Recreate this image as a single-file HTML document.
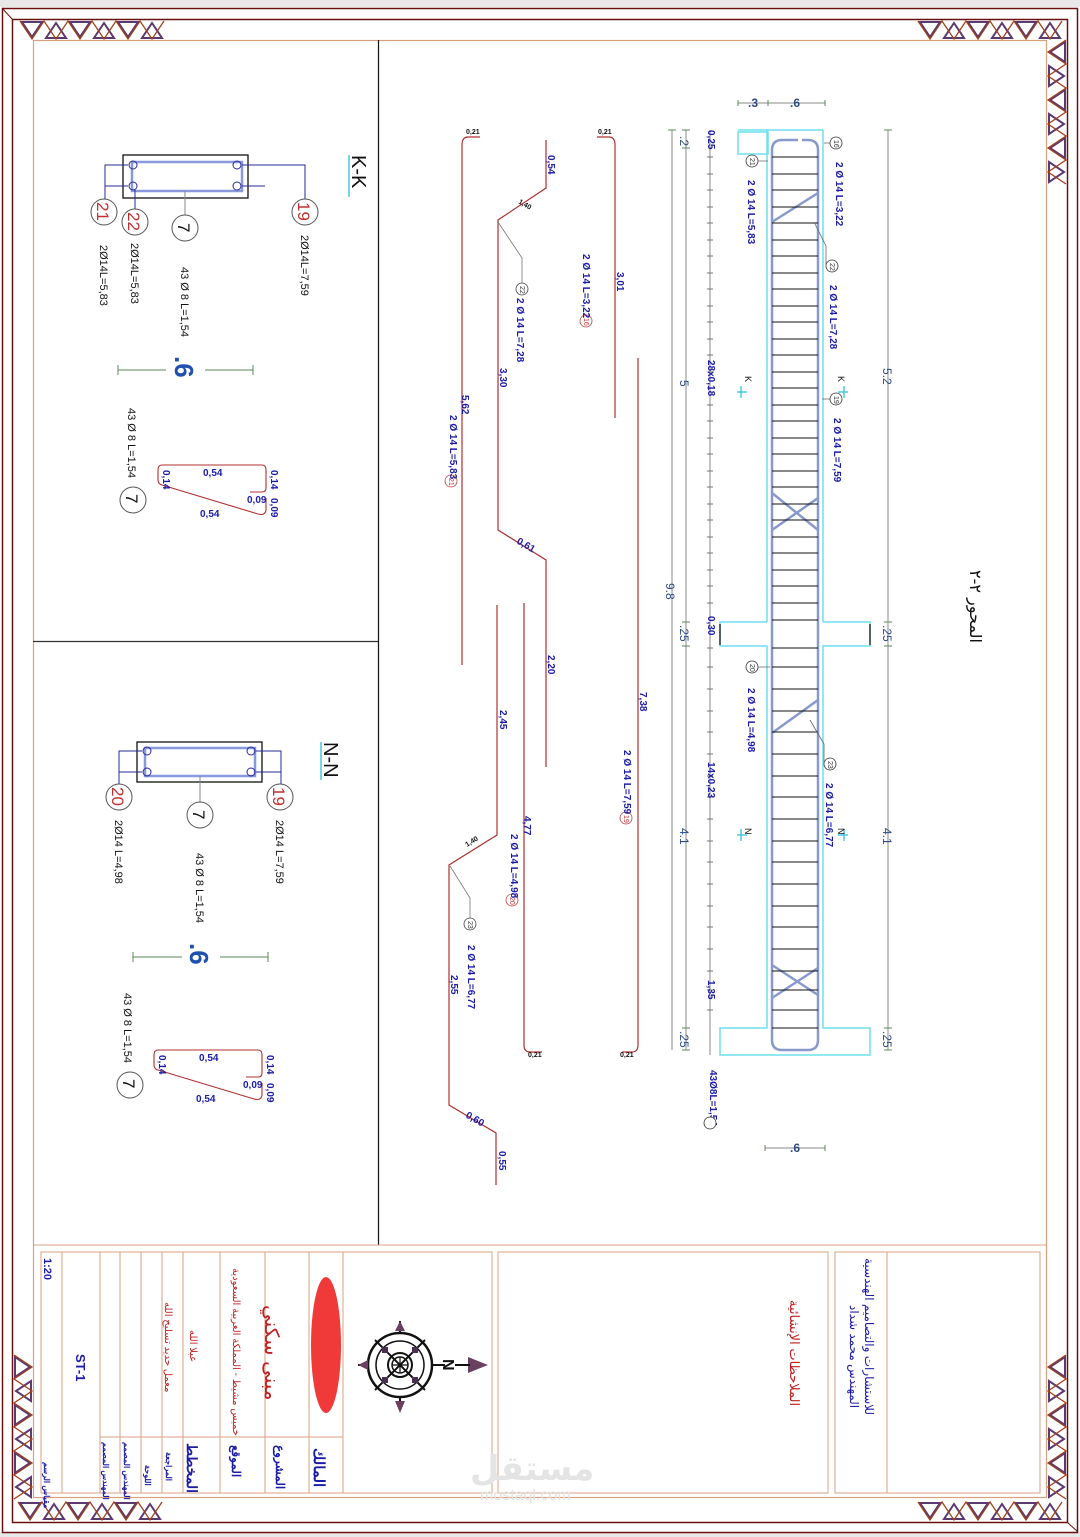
<!DOCTYPE html>
<html><head><meta charset="utf-8"><style>
html,body{margin:0;padding:0;background:#fff}
svg{display:block}
text{font-family:"Liberation Sans","Noto Sans CJK SC",sans-serif}
.b{fill:#1c1ca8;font-weight:bold;font-size:10px}
.k{fill:#111;font-size:11px}
.d{fill:#2a4a8a;font-size:12px}
.ar{font-family:"DejaVu Sans","Liberation Sans",sans-serif}
</style></head><body>
<svg width="1080" height="1537" viewBox="0 0 1080 1537" xmlns="http://www.w3.org/2000/svg">
<defs>
<g id="strip">
 <polygon points="2,1 22,1 12,16" fill="none" stroke="#5a3a70" stroke-width="2"/>
 <polygon points="26,17 46,17 36,2" fill="none" stroke="#5a3a70" stroke-width="2"/>
 <polygon points="50,1 70,1 60,16" fill="none" stroke="#5a3a70" stroke-width="2"/>
 <polygon points="74,17 94,17 84,2" fill="none" stroke="#5a3a70" stroke-width="2"/>
 <polygon points="98,1 118,1 108,16" fill="none" stroke="#5a3a70" stroke-width="2"/>
 <polygon points="122,17 142,17 132,2" fill="none" stroke="#5a3a70" stroke-width="2"/>
 <polyline points="0,0 12,18 24,0 36,18 48,0 60,18 72,0 84,18 96,0 108,18 120,0 132,18 144,0" fill="none" stroke="#a0401a" stroke-width="1.3"/>
</g>
</defs>
<rect x="0" y="0" width="1080" height="7" fill="#e8e8e8"/>
<rect x="0" y="1532" width="1080" height="5" fill="#e8e8e8"/>
<rect x="2.5" y="8.5" width="1075" height="1524" fill="none" stroke="#6a1010" stroke-width="1.5"/>
<rect x="12.5" y="19.5" width="1055" height="1503" fill="none" stroke="#6a1010" stroke-width="1.5"/>
<rect x="33.5" y="40.5" width="1013" height="1457" fill="none" stroke="#d9a080" stroke-width="1.2"/>
<line x1="2" y1="8" x2="13" y2="20" stroke="#6a1010"/>
<line x1="1078" y1="1532" x2="1067" y2="1522" stroke="#6a1010"/>
<use href="#strip" x="20" y="21"/>
<use href="#strip" x="918" y="21"/>
<use href="#strip" x="18" y="1502"/>
<use href="#strip" x="918" y="1502"/>
<use href="#strip" transform="translate(1066,40) rotate(90)"/>
<use href="#strip" transform="translate(1066,1355) rotate(90)"/>
<use href="#strip" transform="translate(14,1355) rotate(90) scale(1,-1)"/>
<line x1="378.5" y1="40" x2="378.5" y2="1245" stroke="#111" stroke-width="1.2"/>
<line x1="33" y1="641.5" x2="378" y2="641.5" stroke="#333" stroke-width="1.2"/>

<g fill="none" stroke="#6fe0ee" stroke-width="1.5">
 <rect x="738" y="132" width="30" height="22"/>
 <line x1="767" y1="130" x2="767" y2="622"/><line x1="823" y1="130" x2="823" y2="622"/>
 <line x1="738" y1="130" x2="823" y2="130"/>
 <polyline points="767,622 720,622 720,646 767,646 767,1028 720,1028 720,1055 870,1055 870,1028 823,1028 823,646 870,646 870,622 823,622"/>
</g>
<line x1="870" y1="624" x2="870" y2="645" stroke="#333" stroke-width="1.5"/>
<line x1="720" y1="624" x2="720" y2="645" stroke="#333" stroke-width="1.5"/>
<g stroke="#8899cc" stroke-width="2.5" fill="none">
 <path d="M772,1040 L772,150 Q772,140 782,140 L798,140"/>
 <path d="M818,1040 L818,150 Q818,140 808,140 L802,140"/>
 <path d="M772,1040 Q772,1050 782,1050 L808,1050 Q818,1050 818,1040"/>
 <line x1="772" y1="222" x2="818" y2="193"/>
 <line x1="772" y1="530" x2="818" y2="498"/>
 <line x1="772" y1="493" x2="818" y2="530"/>
 <line x1="772" y1="733" x2="818" y2="700"/>
 <line x1="772" y1="965" x2="818" y2="995"/>
 <line x1="772" y1="998" x2="818" y2="968"/>
</g>
<g stroke="#111" stroke-width="1">
<path d="M772,157H818M772,174H818M772,190H818M772,207H818M772,223H818M772,240H818M772,256H818M772,273H818M772,289H818M772,306H818M772,322H818M772,339H818M772,355H818M772,372H818M772,388H818M772,405H818M772,421H818M772,438H818M772,454H818M772,471H818M772,487H818M772,504H818M772,520H818M772,537H818M772,553H818M772,570H818M772,586H818M772,603H818M772,620H818M772,648H818M772,667H818M772,689H818M772,711H818M772,732H818M772,754H818M772,776H818M772,797H818M772,819H818M772,841H818M772,862H818M772,884H818M772,906H818M772,927H818M772,949H818M772,971H818M772,990H818M772,1010H818M772,1028H818"/>
</g>
<g stroke="#888" stroke-width="1">
 <line x1="672" y1="130" x2="672" y2="1050"/>
 <line x1="686" y1="130" x2="686" y2="1050"/>
 <line x1="710" y1="130" x2="710" y2="1055"/>
 <line x1="888" y1="130" x2="888" y2="1050"/>
 <line x1="738" y1="103" x2="825" y2="103"/>
 <line x1="765" y1="1148" x2="825" y2="1148"/>
</g>
<g stroke="#5a8a5a" stroke-width="1">
 <path d="M668,130h8M682,130h8M682,148h8M682,622h8M682,646h8M682,1028h8M682,1050h8M884,130h8M884,622h8M884,646h8M884,1028h8M884,1050h8M738,100v6M768,100v6M825,100v6M765,1145v6M825,1145v6"/>
</g>
<g stroke="#777" stroke-width="1">
<path d="M707,157h6M707,174h6M707,190h6M707,207h6M707,223h6M707,240h6M707,256h6M707,273h6M707,289h6M707,306h6M707,322h6M707,339h6M707,355h6M707,372h6M707,388h6M707,405h6M707,421h6M707,438h6M707,454h6M707,471h6M707,487h6M707,504h6M707,520h6M707,537h6M707,553h6M707,570h6M707,586h6M707,603h6M707,648h6M707,667h6M707,689h6M707,711h6M707,732h6M707,754h6M707,776h6M707,797h6M707,819h6M707,841h6M707,862h6M707,884h6M707,906h6M707,927h6M707,949h6M707,971h6M707,990h6M707,1010h6"/>
</g>
<g class="d" font-size="13">
 <text x="748" y="107" font-weight="bold">.3</text><text x="790" y="107" font-weight="bold">.6</text>
 <text x="790" y="1152" font-weight="bold">.6</text>
 <text transform="translate(680,136) rotate(90)">.2</text>
 <text transform="translate(680,380) rotate(90)">5</text>
 <text transform="translate(666,583) rotate(90)">9.8</text>
 <text transform="translate(680,625) rotate(90)">.25</text>
 <text transform="translate(680,828) rotate(90)">4.1</text>
 <text transform="translate(680,1031) rotate(90)">.25</text>
 <text transform="translate(883,368) rotate(90)">5.2</text>
 <text transform="translate(883,625) rotate(90)">.25</text>
 <text transform="translate(883,828) rotate(90)">4.1</text>
 <text transform="translate(883,1031) rotate(90)">.25</text>
</g>
<g class="b">
 <text transform="translate(708,130) rotate(90)">0,25</text>
 <text transform="translate(708,360) rotate(90)">28x0,18</text>
 <text transform="translate(708,616) rotate(90)">0,30</text>
 <text transform="translate(708,762) rotate(90)">14x0,23</text>
 <text transform="translate(708,980) rotate(90)">1,35</text>
 <text transform="translate(710,1070) rotate(90)">43Ø8L=1,54</text>
 <text transform="translate(836,162) rotate(90)">2 Ø 14 L=3,22</text>
 <text transform="translate(748,180) rotate(90)">2 Ø 14 L=5,83</text>
 <text transform="translate(830,285) rotate(90)">2 Ø 14 L=7,28</text>
 <text transform="translate(834,418) rotate(90)">2 Ø 14 L=7,59</text>
 <text transform="translate(748,688) rotate(90)">2 Ø 14 L=4,98</text>
 <text transform="translate(826,783) rotate(90)">2 Ø 14 L=6,77</text>
</g>
<g fill="#fff" stroke="#333" stroke-width="0.8">
 <circle cx="836" cy="143" r="6"/><circle cx="752" cy="161" r="6"/><circle cx="832" cy="266" r="6"/>
 <circle cx="836" cy="399" r="6"/><circle cx="752" cy="667" r="6"/><circle cx="830" cy="764" r="6"/>
 <circle cx="710" cy="1123" r="6"/>
</g>
<g fill="none" stroke="#666" stroke-width="0.8">
 <path d="M824,143h6M758,161h10M826,266v-20l-12,-24M822,399h8M758,667h12M824,764v-20l-14,-24"/>
</g>
<g font-size="7" fill="#333">
 <text transform="translate(834,140) rotate(90)">16</text><text transform="translate(750,158) rotate(90)">21</text>
 <text transform="translate(830,263) rotate(90)">22</text><text transform="translate(834,396) rotate(90)">19</text>
 <text transform="translate(750,664) rotate(90)">20</text><text transform="translate(828,761) rotate(90)">23</text>
</g>
<g stroke="#4ac8e0" stroke-width="1.5" fill="none">
 <path d="M737,392h10M741,386v12M838,392h10M844,386v12M737,835h10M741,829v12M838,835h10M844,829v12"/>
</g>
<g font-size="9" fill="#111">
 <text transform="translate(745,376) rotate(90)">K</text><text transform="translate(838,376) rotate(90)">K</text>
 <text transform="translate(745,828) rotate(90)">N</text><text transform="translate(838,828) rotate(90)">N</text>
</g>
<text class="ar" transform="translate(970,570) rotate(90)" font-size="16" fill="#111">المحور ٢-٢</text>

<g fill="none" stroke="#b03030" stroke-width="1.2">
 <path d="M480,137 H468 Q462,137 462,145 V665"/>
 <path d="M546,140 V188 L498,220 V530 L546,560 V767"/>
 <path d="M597,137 H609 Q615,137 615,145 V418"/>
 <path d="M638,358 V1045 Q638,1052 632,1052 H622"/>
 <path d="M524,603 V1045 Q524,1052 530,1052 H542"/>
 <path d="M497,605 V835 L449,865 V1105 L496,1133 V1185"/>
</g>
<g fill="none" stroke="#777" stroke-width="0.8"><path d="M498,222 L522,258 V285"/><path d="M450,866 L470,898 V920"/></g>
<g fill="#fff" stroke="#444" stroke-width="0.8"><circle cx="522" cy="289" r="6"/><circle cx="470" cy="924" r="6"/></g>
<g fill="#fff" stroke="#c04040" stroke-width="0.8"><circle cx="586" cy="321" r="6"/><circle cx="451" cy="481" r="6"/><circle cx="626" cy="818" r="6"/><circle cx="512" cy="900" r="6"/></g>
<g font-size="7" fill="#333"><text transform="translate(520,286) rotate(90)">22</text><text transform="translate(468,921) rotate(90)">23</text></g>
<g font-size="7" fill="#c03030"><text transform="translate(584,318) rotate(90)">16</text><text transform="translate(449,478) rotate(90)">21</text><text transform="translate(624,815) rotate(90)">19</text><text transform="translate(510,897) rotate(90)">20</text></g>
<g class="b">
 <text x="466" y="134" font-size="7" fill="#111">0,21</text>
 <text x="598" y="134" font-size="7" fill="#111">0,21</text>
 <text x="528" y="1057" font-size="7" fill="#111">0,21</text>
 <text x="620" y="1057" font-size="7" fill="#111">0,21</text>
 <text transform="translate(548,155) rotate(90)">0,54</text>
 <text transform="translate(518,203) rotate(30)" font-size="7" fill="#111">1,40</text>
 <text transform="translate(500,368) rotate(90)">3,30</text>
 <text transform="translate(462,395) rotate(90)">5,62</text>
 <text transform="translate(516,543) rotate(30)">0,61</text>
 <text transform="translate(548,655) rotate(90)">2,20</text>
 <text transform="translate(617,272) rotate(90)">3,01</text>
 <text transform="translate(640,692) rotate(90)">7,38</text>
 <text transform="translate(500,710) rotate(90)">2,45</text>
 <text transform="translate(524,816) rotate(90)">4,77</text>
 <text transform="translate(467,847) rotate(-32)" font-size="7" fill="#111">1,40</text>
 <text transform="translate(451,975) rotate(90)">2,55</text>
 <text transform="translate(465,1117) rotate(30)">0,60</text>
 <text transform="translate(499,1151) rotate(90)">0,55</text>
 <text transform="translate(583,254) rotate(90)">2 Ø 14 L=3,22</text>
 <text transform="translate(517,298) rotate(90)">2 Ø 14 L=7,28</text>
 <text transform="translate(450,415) rotate(90)">2 Ø 14 L=5,83</text>
 <text transform="translate(624,750) rotate(90)">2 Ø 14 L=7,59</text>
 <text transform="translate(511,834) rotate(90)">2 Ø 14 L=4,98</text>
 <text transform="translate(468,945) rotate(90)">2 Ø 14 L=6,77</text>
</g>

<rect x="123" y="155" width="125" height="43" fill="none" stroke="#111" stroke-width="1.3"/>
<rect x="132" y="162" width="110" height="29" fill="none" stroke="#8899dd" stroke-width="2.5"/>
<g fill="none" stroke="#2a2a9a" stroke-width="1">
 <circle cx="133" cy="165" r="4"/><circle cx="133" cy="186" r="4"/><circle cx="237" cy="165" r="4"/><circle cx="237" cy="186" r="4"/>
 <path d="M105,200V165H128M105,186H128M135,190V210M242,165H305V200M242,186H265"/>
</g>
<line x1="185" y1="191" x2="185" y2="216" stroke="#888"/>
<line x1="349" y1="155" x2="349" y2="197" stroke="#4ac8e0" stroke-width="1.5"/>
<text transform="translate(352,155) rotate(90)" font-size="20" fill="#111">K-K</text>
<g fill="#fff" stroke="#555"><circle cx="104" cy="212" r="13"/><circle cx="135" cy="222" r="13"/><circle cx="185" cy="228" r="13"/><circle cx="305" cy="212" r="13"/></g>
<g font-size="17"><text transform="translate(97,202) rotate(90)" fill="#c03030">21</text><text transform="translate(128,212) rotate(90)" fill="#c03030">22</text><text transform="translate(178,223) rotate(90)" fill="#111">7</text><text transform="translate(298,202) rotate(90)" fill="#c03030">19</text></g>
<g class="k"><text transform="translate(100,245) rotate(90)">2Ø14L=5,83</text><text transform="translate(131,243) rotate(90)">2Ø14L=5,83</text><text transform="translate(181,267) rotate(90)">43 Ø 8 L=1,54</text><text transform="translate(301,235) rotate(90)">2Ø14L=7,59</text></g>
<g stroke="#5a8a5a"><path d="M118,370H166M205,370H253M118,365v10M253,365v10"/></g>
<text transform="translate(175,356) rotate(90)" font-size="26" font-weight="bold" fill="#2050b0">.6</text>
<path d="M250,492 H262 Q266,492 266,488 V470 Q266,465 262,465 H162 Q158,465 158,470 V480 Q158,484 162,485 L258,514 Q265,516 266,510 V498" fill="none" stroke="#b03030" stroke-width="1.1"/>
<g class="b" font-size="9"><text x="203" y="476">0,54</text><text x="200" y="517">0,54</text><text transform="translate(163,470) rotate(90)">0,14</text><text transform="translate(271,470) rotate(90)">0,14</text><text x="247" y="503">0,09</text><text transform="translate(271,498) rotate(90)">0,09</text></g>
<circle cx="133" cy="500" r="13" fill="#fff" stroke="#555"/><text transform="translate(126,494) rotate(90)" font-size="17" fill="#111">7</text>
<text class="k" transform="translate(128,408) rotate(90)">43 Ø 8 L=1,54</text>

<rect x="137" y="742" width="125" height="40" fill="none" stroke="#111" stroke-width="1.3"/>
<rect x="145" y="748" width="110" height="28" fill="none" stroke="#8899dd" stroke-width="2.5"/>
<g fill="none" stroke="#2a2a9a" stroke-width="1">
 <circle cx="147" cy="751" r="4"/><circle cx="147" cy="772" r="4"/><circle cx="251" cy="751" r="4"/><circle cx="251" cy="772" r="4"/>
 <path d="M119,785V751H142M119,772H142M256,751H281V785M256,772H281"/>
</g>
<line x1="200" y1="776" x2="200" y2="802" stroke="#888"/>
<line x1="321" y1="742" x2="321" y2="780" stroke="#4ac8e0" stroke-width="1.5"/>
<text transform="translate(324,742) rotate(90)" font-size="20" fill="#111">N-N</text>
<g fill="#fff" stroke="#555"><circle cx="119" cy="797" r="13"/><circle cx="200" cy="815" r="13"/><circle cx="280" cy="797" r="13"/></g>
<g font-size="17"><text transform="translate(112,787) rotate(90)" fill="#c03030">20</text><text transform="translate(193,810) rotate(90)" fill="#111">7</text><text transform="translate(273,787) rotate(90)" fill="#c03030">19</text></g>
<g class="k"><text transform="translate(115,820) rotate(90)">2Ø14 L=4,98</text><text transform="translate(196,853) rotate(90)">43 Ø 8 L=1,54</text><text transform="translate(276,820) rotate(90)">2Ø14 L=7,59</text></g>
<g stroke="#5a8a5a"><path d="M133,957H182M220,957H268M133,952v10M268,952v10"/></g>
<text transform="translate(190,943) rotate(90)" font-size="26" font-weight="bold" fill="#2050b0">.6</text>
<path d="M246,1077 H258 Q262,1077 262,1073 V1055 Q262,1050 258,1050 H158 Q154,1050 154,1055 V1065 Q154,1069 158,1070 L254,1099 Q261,1101 262,1095 V1083" fill="none" stroke="#b03030" stroke-width="1.1"/>
<g class="b" font-size="9"><text x="199" y="1061">0,54</text><text x="196" y="1102">0,54</text><text transform="translate(159,1055) rotate(90)">0,14</text><text transform="translate(267,1055) rotate(90)">0,14</text><text x="243" y="1088">0,09</text><text transform="translate(267,1083) rotate(90)">0,09</text></g>
<circle cx="130" cy="1085" r="13" fill="#fff" stroke="#555"/><text transform="translate(123,1079) rotate(90)" font-size="17" fill="#111">7</text>
<text class="k" transform="translate(124,993) rotate(90)">43 Ø 8 L=1,54</text>

<line x1="33" y1="1245" x2="1047" y2="1245" stroke="#d9a080"/>
<g fill="none" stroke="#d9a080" stroke-width="1">
 <rect x="41" y="1252" width="451" height="241"/>
 <path d="M62,1252V1493M100,1252V1493M120,1252V1493M141,1252V1493M162,1252V1493M183,1252V1493M220,1252V1493M265,1252V1493M309,1252V1493M343,1252V1493M100,1437H343"/>
 <rect x="498" y="1252" width="330" height="241"/>
 <rect x="835" y="1252" width="205" height="241"/>
 <line x1="887" y1="1252" x2="887" y2="1493"/>
</g>
<text transform="translate(44,1258) rotate(90)" font-size="11" fill="#1c1ca8" font-weight="bold">1:20</text>
<text transform="translate(76,1354) rotate(90)" font-size="13" fill="#1c1ca8" font-weight="bold" font-family="Liberation Serif">ST-1</text>
<g class="ar" fill="#1c1ca8" font-weight="bold">
 <text transform="translate(44,1462) rotate(90)" font-size="8">مقياس الرسم</text>
 <text transform="translate(103,1442) rotate(90)" font-size="8">المهندس المصمم</text>
 <text transform="translate(124,1442) rotate(90)" font-size="8">المهندس المصمم</text>
 <text transform="translate(145,1465) rotate(90)" font-size="8">اللوحة</text>
 <text transform="translate(166,1452) rotate(90)" font-size="8">المراجعة</text>
 <text transform="translate(187,1443) rotate(90)" font-size="14">المخطط</text>
 <text transform="translate(232,1445) rotate(90)" font-size="12">الموقع</text>
 <text transform="translate(276,1445) rotate(90)" font-size="12">المشروع</text>
 <text transform="translate(314,1448) rotate(90)" font-size="15">المالك</text>
</g>
<g class="ar" fill="#c02020">
 <text transform="translate(165,1302) rotate(90)" font-size="10">معمل حديد تسليح الله</text>
 <text transform="translate(190,1330) rotate(90)" font-size="10">عبلا الله</text>
 <text transform="translate(233,1268) rotate(90)" font-size="10">خميس مشيط - المملكة العربية السعودية</text>
 <text transform="translate(265,1305) rotate(90)" font-size="20">مبنى سكني</text>
 <text transform="translate(790,1300) rotate(90)" font-size="13">الملاحظات الإنشائية</text>
</g>
<ellipse cx="326" cy="1345" rx="15" ry="68" fill="#f03a3a"/>
<g transform="translate(400,1365)">
 <circle r="32" fill="none" stroke="#111" stroke-width="2.5"/>
 <circle r="24" fill="none" stroke="#111" stroke-width="1.5"/>
 <circle r="12" fill="none" stroke="#111" stroke-width="2"/>
 <circle r="8" fill="none" stroke="#111" stroke-width="1.5"/>
 <path d="M-8,0H8M0,-8V8M-6,-6L6,6M-6,6L6,-6" stroke="#111" stroke-width="1.2"/>
 <path d="M-25,-25L25,25M-25,25L25,-25" stroke="#111" stroke-width="2"/>
 <path d="M32,0H45M-32,0H-42M0,32V44M0,-32V-44" stroke="#111" stroke-width="2"/>
 <polygon points="88,0 68,-8 68,8" fill="#6a4060"/>
 <line x1="55" y1="0" x2="70" y2="0" stroke="#111" stroke-width="2"/>
 <polygon points="-42,0 -32,-5 -32,5" fill="#6a4060"/><polygon points="0,-44 -5,-34 5,-34" fill="#6a4060"/><polygon points="0,48 -5,36 5,36" fill="#6a4060"/>
 <rect x="-18" y="-18" width="6" height="6" fill="#4a3050"/><rect x="12" y="-18" width="6" height="6" fill="#4a3050"/><rect x="-18" y="12" width="6" height="6" fill="#4a3050"/><rect x="12" y="12" width="6" height="6" fill="#4a3050"/>
 <text transform="translate(43,-6) rotate(90)" font-size="16" font-weight="bold" fill="#111">N</text>
</g>
<g class="ar" fill="#1c1ca8">
 <text transform="translate(850,1305) rotate(90)" font-size="12">المهندس محمد شداد</text>
 <text transform="translate(865,1258) rotate(90)" font-size="12">للاستشارات والتصاميم الهندسية</text>
</g>
<text x="470" y="1480" font-size="34" fill="#e4e4e4" font-weight="bold" class="ar">مستقل</text>
<text x="480" y="1500" font-size="16" fill="#e4e4e4">mostaql.com</text>
</svg>
</body></html>
